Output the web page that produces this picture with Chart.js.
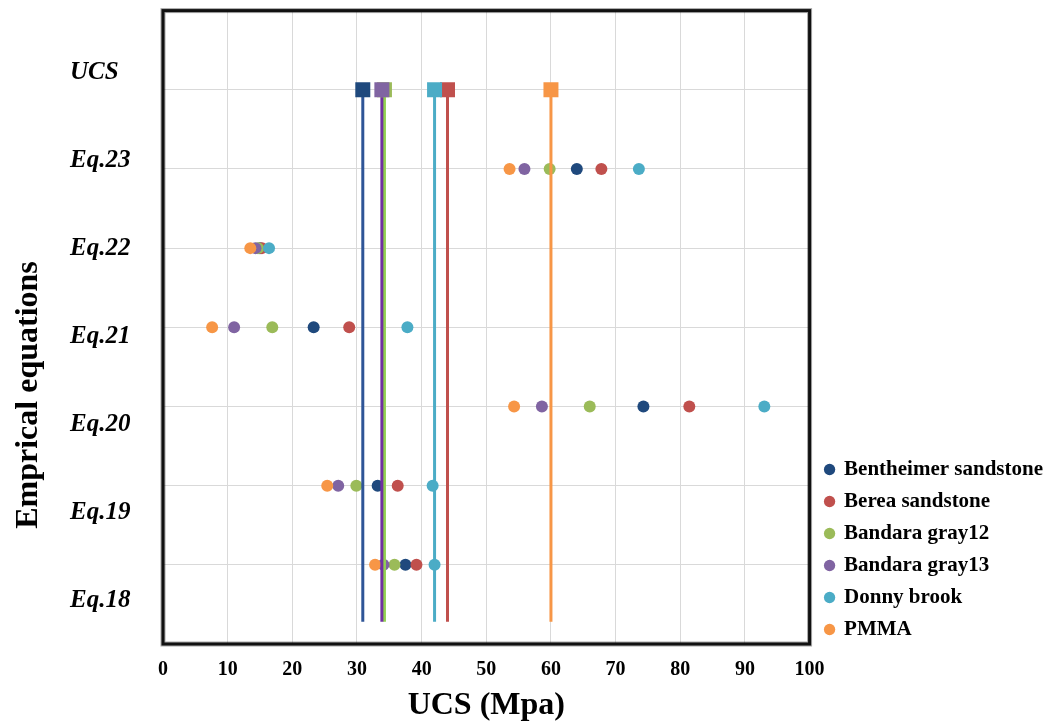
<!DOCTYPE html>
<html>
<head>
<meta charset="utf-8">
<script src="https://cdn.jsdelivr.net/npm/chart.js@4/dist/chart.umd.min.js"></script>
<style>
  html, body { margin: 0; padding: 0; background: #fff; }
  #wrap { width: 1053px; height: 726px; }
</style>
</head>
<body>
<div id="wrap"><canvas id="myChart"></canvas></div>
<script>
// Materials (legend order)
const materials = ["Bentheimer sandstone", "Berea sandstone", "Bandara gray12", "Bandara gray13", "Donny brook", "PMMA"];

// Row names on the left, top to bottom
const rowNames = ["UCS", "Eq.23", "Eq.22", "Eq.21", "Eq.20", "Eq.19", "Eq.18"];

// y level of each equation row: Eq.18 .. Eq.23
const eqLevels = [1, 2, 3, 4, 5, 6];
const ucsLevel = 7;
const lineFloor = 0.28;

// UCS predicted by each equation (Eq.18 .. Eq.23), Mpa
const bentheimer = [37.5, 33.2, 74.3, 23.3, 15.0, 64.0];
const berea      = [39.2, 36.3, 81.4, 28.8, 15.3, 67.8];
const gray12     = [35.8, 29.9, 66.0, 16.9, 14.7, 59.8];
const gray13     = [34.1, 27.1, 58.6, 11.0, 14.3, 55.9];
const donnyBrook = [42.0, 41.7, 93.0, 37.8, 16.4, 73.6];
const pmma       = [32.8, 25.4, 54.3, 7.6, 13.5, 53.6];
const predicted = [bentheimer, berea, gray12, gray13, donnyBrook, pmma];

// measured UCS, Mpa
const measuredUcs = [30.9, 44.0, 34.25, 33.85, 42.0, 60.0];

// x axis
const xTicks = [0, 10, 20, 30, 40, 50, 60, 70, 80, 90, 100];

const dotColors = ["#1F497D", "#C0504D", "#9BBB59", "#8064A2", "#4BACC6", "#F79646"];
const lineColors = ["#2F5597", "#C0504D", "#92D050", "#7030A0", "#4BACC6", "#F79646"];

const serif = "'Liberation Serif', 'Times New Roman', serif";

let datasets = [];

// dots for every equation (later series on top, like excel)
materials.forEach((name, i) => {
    datasets.push({
        label: name,
        data: eqLevels.map((lv, j) => ({ x: predicted[i][j], y: lv })),
        backgroundColor: dotColors[i],
        borderColor: dotColors[i],
        pointStyle: "circle",
        pointRadius: 6,
        pointBorderWidth: 0,
        showLine: false,
        order: 30 - i
    });
});

// vertical lines for measured UCS
materials.forEach((name, i) => {
    datasets.push({
        label: name + " line",
        data: [{ x: measuredUcs[i], y: ucsLevel }, { x: measuredUcs[i], y: lineFloor }],
        borderColor: lineColors[i],
        borderWidth: 3,
        pointRadius: 0,
        showLine: true,
        order: 20 - i
    });
});

// squares at the UCS row
materials.forEach((name, i) => {
    datasets.push({
        label: name + " UCS",
        data: [{ x: measuredUcs[i], y: ucsLevel }],
        backgroundColor: dotColors[i],
        borderColor: dotColors[i],
        pointStyle: "rect",
        pointRadius: 10.6,
        pointBorderWidth: 0,
        showLine: false,
        order: 10 - i
    });
});

// frame, row names and y title
const decorations = {
    id: "decorations",
    afterLayout(chart) {
        // legend sits a bit lower / further right than the plot edge
        chart.legend.top += 7;
        chart.legend.bottom += 7;
        chart.legend.left += 5;
        chart.legend.right += 5;
    },
    afterDraw(chart) {
        const ctx = chart.ctx;
        const a = chart.chartArea;
        ctx.save();

        // frame
        ctx.strokeStyle = "rgba(0,0,0,0.35)";
        ctx.lineWidth = 5;
        ctx.strokeRect(a.left, a.top, a.right - a.left, a.bottom - a.top);
        ctx.strokeStyle = "#111";
        ctx.lineWidth = 3;
        ctx.strokeRect(a.left, a.top, a.right - a.left, a.bottom - a.top);

        // row names, evenly spaced
        ctx.fillStyle = "#000";
        ctx.font = "italic bold 25px " + serif;
        ctx.textAlign = "left";
        ctx.textBaseline = "middle";
        const h = a.bottom - a.top;
        rowNames.forEach((t, k) => {
            ctx.fillText(t, 70, a.top + h * (0.098 + k * 0.1389));
        });

        // y title
        ctx.font = "bold 32px " + serif;
        ctx.textAlign = "center";
        ctx.translate(29, 395);
        ctx.rotate(-Math.PI / 2);
        ctx.fillText("Emprical equations", 0, 0);
        ctx.restore();
    }
};

new Chart("myChart", {
    type: "scatter",
    data: { datasets: datasets },
    options: {
        responsive: true,
        maintainAspectRatio: false,
        animation: false,
        layout: { padding: { top: 8, right: 5, bottom: 0, left: 0 } },
        plugins: {
            tooltip: { enabled: false },
            legend: {
                position: "right",
                align: "end",
                fullSize: false,
                labels: {
                    usePointStyle: true,
                    boxWidth: 8,
                    boxHeight: 8,
                    padding: 11,
                    color: "#000",
                    font: { family: serif, size: 21, weight: "bold" },
                    filter: (item) => item.datasetIndex < materials.length,
                    sort: (a, b) => a.datasetIndex - b.datasetIndex
                }
            }
        },
        scales: {
            x: {
                type: "linear",
                min: 0,
                max: 100,
                afterBuildTicks: (scale) => { scale.ticks = xTicks.map(v => ({ value: v })); },
                afterFit: (scale) => { scale.height = 82; },
                grid: { color: "#d9d9d9", lineWidth: 1, drawTicks: false },
                border: { display: false },
                ticks: {
                    color: "#000",
                    padding: 14,
                    font: { family: serif, size: 20, weight: "bold" }
                },
                title: {
                    display: true,
                    text: "UCS (Mpa)",
                    color: "#000",
                    font: { family: serif, size: 32, weight: "bold" },
                    padding: { top: 0, bottom: 1 }
                }
            },
            y: {
                type: "linear",
                min: 0,
                max: 8,
                afterFit: (scale) => { scale.width = 163; },
                grid: { color: "#d9d9d9", lineWidth: 1, drawTicks: false },
                border: { display: false },
                ticks: { display: false, stepSize: 1 }
            }
        }
    },
    plugins: [decorations]
});
</script>
</body>
</html>
